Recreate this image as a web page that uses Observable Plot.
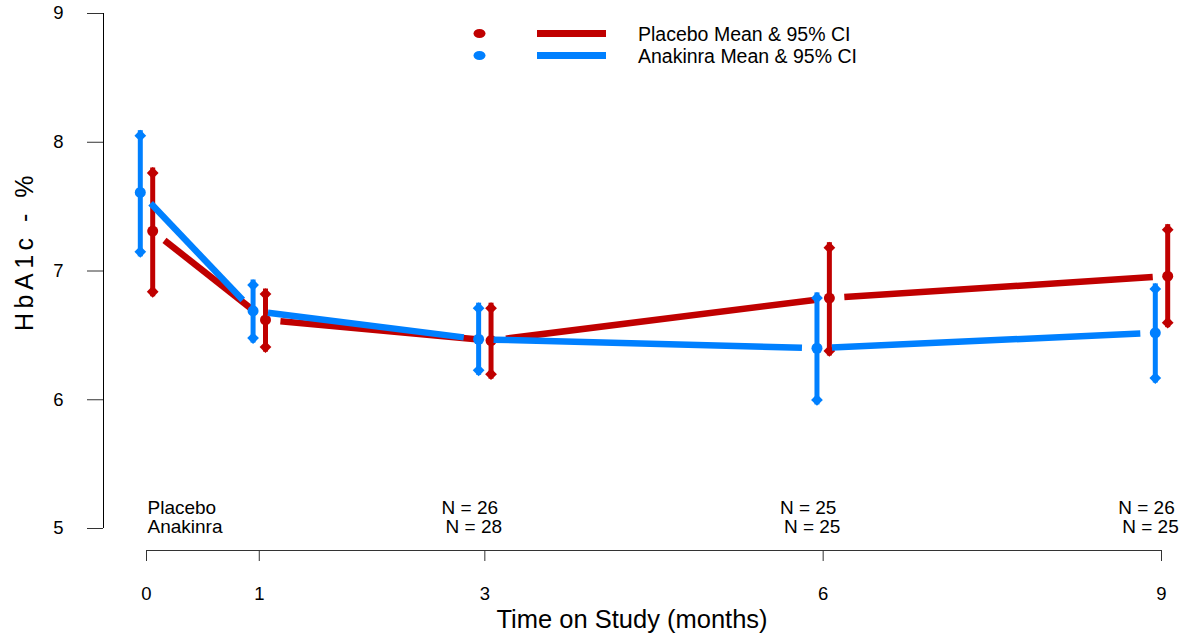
<!DOCTYPE html>
<html><head><meta charset="utf-8">
<script src="https://cdn.jsdelivr.net/npm/d3@7"></script>
<script src="https://cdn.jsdelivr.net/npm/@observablehq/plot@0.6"></script>
<style>
body{margin:0;background:#fff;}
#wrap{position:relative;width:1186px;height:637px;font-family:"Liberation Sans",Arial,sans-serif;}
#legend{position:absolute;left:0;top:0;}
</style>
</head><body><div id="wrap"></div>
<script>
// ---- data ----
const months = [0, 1, 3, 6, 9];
const placeboMean = [7.31, 6.62, 6.46, 6.79, 6.96];
const placeboLow  = [6.80, 6.37, 6.16, 6.34, 6.56];
const placeboHigh = [7.80, 6.86, 6.75, 7.22, 7.36];
const anakinraMean = [7.61, 6.69, 6.47, 6.40, 6.52];
const anakinraLow  = [7.11, 6.44, 6.19, 5.96, 6.13];
const anakinraHigh = [8.09, 6.93, 6.75, 6.83, 6.90];
const placeboN  = [null, null, 26, 25, 26];
const anakinraN = [null, null, 28, 25, 25];
const groupNames = ["Placebo", "Anakinra"];
const legendLabels = ["Placebo Mean & 95% CI", "Anakinra Mean & 95% CI"];
const xTicks = [0, 1, 3, 6, 9];
const yTicks = [5, 6, 7, 8, 9];
const xLabel = "Time on Study (months)";
const yLabel = "HbA1c - %";

// ---- layout / style ----
const W = 1186, H = 637, ML = 146, MR = 25, MT = 13, MB = 109;
const RED = "#c00000", BLUE = "#0080ff";
const FONT = "Liberation Sans, Arial, sans-serif";
const OFF = 0.055, GAP = 15;
const TICKFONT = 18.5;
const xDomain = [xTicks[0], xTicks[xTicks.length - 1]];
const yDomain = [yTicks[0], yTicks[yTicks.length - 1]];
const kx = (W - ML - MR) / (xDomain[1] - xDomain[0]);
const ky = (H - MT - MB) / (yDomain[1] - yDomain[0]);

const series = [
  {color: RED, off: OFF, mean: placeboMean, lo: placeboLow, hi: placeboHigh},
  {color: BLUE, off: -OFF, mean: anakinraMean, lo: anakinraLow, hi: anakinraHigh}
];
function pts(s) { return months.map((m, i) => ({x: m + s.off, y: s.mean[i], lo: s.lo[i], hi: s.hi[i]})); }
function segs(p) {
  const out = [];
  for (let i = 0; i < p.length - 1; i++) {
    const a = p[i], b = p[i + 1];
    const L = Math.hypot((b.x - a.x) * kx, (b.y - a.y) * ky);
    const t = GAP / L;
    out.push({x1: a.x + t * (b.x - a.x), y1: a.y + t * (b.y - a.y), x2: b.x - t * (b.x - a.x), y2: b.y - t * (b.y - a.y)});
  }
  return out;
}

const marks = [];
for (const s of series) {
  const p = pts(s);
  marks.push(Plot.link(segs(p), {x1: "x1", y1: "y1", x2: "x2", y2: "y2", stroke: s.color, strokeWidth: 6.5, strokeLinecap: "butt"}));
  marks.push(Plot.ruleX(p, {x: "x", y1: "lo", y2: "hi", stroke: s.color, strokeWidth: 5}));
  marks.push(Plot.dot(p, {x: "x", y: "hi", symbol: "diamond2", r: 5.3, fill: s.color, stroke: "none", dy: 5}));
  marks.push(Plot.dot(p, {x: "x", y: "lo", symbol: "diamond2", r: 5.3, fill: s.color, stroke: "none", dy: -5}));
  marks.push(Plot.dot(p, {x: "x", y: "y", r: 5.5, fill: s.color, stroke: "none"}));
}

const nRows = months.map((m, i) => ({m, p: placeboN[i], a: anakinraN[i]})).filter(d => d.p != null);

const chart = Plot.plot({
  width: W, height: H,
  marginLeft: ML, marginRight: MR, marginTop: MT, marginBottom: MB,
  style: {fontFamily: FONT, color: "black", background: "white"},
  x: {domain: xDomain},
  y: {domain: yDomain},
  marks: [
    // y axis
    Plot.ruleX([xDomain[0]], {y1: yDomain[0], y2: yDomain[1], dx: -43, stroke: "black", strokeWidth: 1}),
    Plot.axisY({ticks: yTicks, tickFormat: d3.format("d"), tickSize: 16, tickPadding: 24, dx: -43, fontSize: TICKFONT, label: null, stroke: "#333"}),
    // x axis
    Plot.ruleY([yDomain[0]], {x1: xDomain[0], x2: xDomain[1], dy: 22, stroke: "#333", strokeWidth: 1}),
    Plot.axisX({ticks: xTicks, tickFormat: d3.format("d"), tickSize: 11, tickPadding: 25, dy: 22, fontSize: TICKFONT, label: null, stroke: "#333"}),
    // axis titles
    Plot.text([xLabel], {frameAnchor: "bottom", dy: 91, dx: -22, fontSize: 25.5, lineAnchor: "middle"}),
    Plot.text([yLabel], {frameAnchor: "left", rotate: -90, dx: -122, dy: 60, fontSize: 25, lineAnchor: "middle"}),
    // N labels
    Plot.text([groupNames[0]], {frameAnchor: "bottom-left", textAnchor: "start", dx: 1, dy: -21, fontSize: 19, lineAnchor: "middle"}),
    Plot.text([groupNames[1]], {frameAnchor: "bottom-left", textAnchor: "start", dx: 1, dy: -2, fontSize: 19, lineAnchor: "middle"}),
    Plot.text(nRows, {x: "m", frameAnchor: "bottom", text: d => `N = ${d.p}`, dx: -15, dy: -21, fontSize: 19, lineAnchor: "middle"}),
    Plot.text(nRows, {x: "m", frameAnchor: "bottom", text: d => `N = ${d.a}`, dx: -11, dy: -2, fontSize: 19, lineAnchor: "middle"}),
    ...marks
  ]
});

d3.select(chart).selectAll("text").filter(function () { return this.textContent === yLabel; }).attr("letter-spacing", "4.5px");
const tickStrings = new Set([...xTicks, ...yTicks].map(String));
d3.select(chart).selectAll("text").filter(function () { return tickStrings.has(this.textContent.trim()); })
  .style("font-size", TICKFONT + "px").attr("font-size", TICKFONT);

const wrap = document.getElementById("wrap");
wrap.appendChild(chart);

// legend overlay
const lg = d3.select(wrap).append("svg").attr("id", "legend").attr("width", W).attr("height", 80);
const legendColors = [RED, BLUE];
const rowsY = [33.5, 55.5];
legendLabels.forEach((lab, i) => {
  const g = lg.append("g").attr("transform", `translate(0,${rowsY[i]})`);
  g.append("ellipse").attr("cx", 479.5).attr("cy", 0).attr("rx", 6).attr("ry", 4.5).attr("fill", legendColors[i]);
  g.append("line").attr("x1", 537).attr("x2", 606).attr("y1", 0).attr("y2", 0).attr("stroke", legendColors[i]).attr("stroke-width", 7);
  g.append("text").attr("x", 638).attr("y", 0).attr("dy", "0.36em").attr("font-size", 19.5).attr("font-family", FONT).attr("fill", "black").text(lab);
});
</script>
</body></html>
